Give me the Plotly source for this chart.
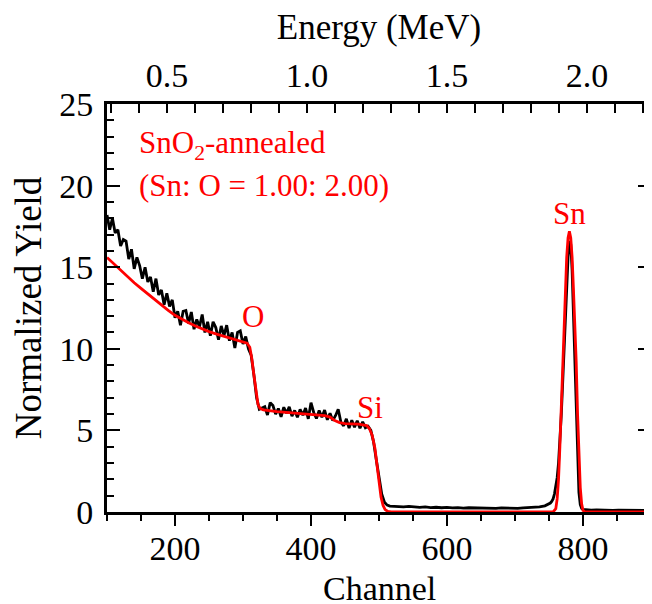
import plotly.graph_objects as go

# ---------------- data ----------------
# experimental spectrum (black) – channels in sampled segments
exp_ch_a = list(range(100, 524, 4))
exp_y_a = [18.2, 17.3, 18.0, 17.1, 17.3, 16.3, 16.7, 16.6, 15.5, 16.1,
           14.9, 15.6, 15.1, 14.3, 15.0, 14.1, 14.4, 13.5, 14.3, 13.3,
           13.6, 12.7, 13.4, 12.6, 13.0, 11.9, 12.3, 11.45, 12.3, 12.35,
           11.55, 12.25, 11.2, 11.8, 11.35, 12.1, 11.0, 11.65, 10.8, 11.65,
           11.3, 10.55, 11.4, 10.8, 11.45, 10.5, 11.0, 10.05, 11.0, 11.1,
           10.3, 10.75, 10.0, 9.6, 8.4, 7.0, 6.3, 6.4, 6.45, 5.94,
           6.7, 6.52, 6.0, 6.34, 5.83, 6.42, 6.05, 6.44, 5.88, 6.22,
           5.8, 6.29, 5.93, 6.37, 5.71, 6.7, 6.1, 5.73, 6.22, 5.81,
           6.25, 5.65, 6.05, 5.6, 5.9, 6.3, 5.5, 5.28, 5.71, 5.14,
           5.62, 5.2, 5.59, 5.13, 5.52, 5.16, 5.25, 5.0, 4.3, 3.2,
           2.0, 1.1, 0.6, 0.42, 0.36, 0.35]
exp_ch_b = list(range(528, 752, 8))
exp_y_b = [0.33, 0.31, 0.34, 0.30, 0.28, 0.31, 0.27, 0.29, 0.26, 0.28,
           0.25, 0.27, 0.24, 0.26, 0.25, 0.23, 0.26, 0.24, 0.22, 0.25,
           0.23, 0.24, 0.22, 0.25, 0.26, 0.28, 0.32, 0.38]
exp_ch_c = list(range(746, 802, 2))
exp_y_c = [0.42, 0.45, 0.5, 0.55, 0.65, 0.8, 1.1, 1.5, 2.1, 3.0,
           4.3, 5.9, 7.8, 9.9, 12.0, 14.0, 15.6, 16.6, 16.4, 14.8,
           12.2, 9.0, 5.8, 3.0, 1.2, 0.45, 0.22, 0.16]
exp_ch_d = list(range(804, 904, 8))
exp_y_d = [0.14, 0.12, 0.13, 0.11, 0.12, 0.10, 0.11, 0.10, 0.12, 0.10,
           0.11, 0.10, 0.10]

# simulated spectrum (red)
sim_ch = [100, 110, 120, 130, 140, 150, 160, 170, 180, 190, 200, 210, 220,
          230, 240, 250, 260, 270, 280, 290, 300, 306, 310, 313, 316, 319,
          322, 325, 330, 350, 375, 400, 420, 428, 435, 442, 450, 470, 482,
          486, 490, 494, 497, 500, 503, 506, 509, 513, 518, 756, 760, 762,
          764, 766, 768, 770, 772, 774, 776, 778, 780, 782, 784, 786, 788,
          790, 792, 794, 796, 798, 800, 803, 900]
sim_y = [15.6, 15.2, 14.85, 14.45, 14.05, 13.7, 13.35, 13.0, 12.65, 12.35,
         12.05, 11.8, 11.6, 11.4, 11.22, 11.05, 10.92, 10.8, 10.68, 10.56,
         10.45, 10.35, 10.1, 9.4, 8.4, 7.3, 6.6, 6.35, 6.25, 6.15, 6.07,
         6.0, 5.9, 5.82, 5.6, 5.48, 5.42, 5.38, 5.3, 5.1, 4.7, 3.9, 2.8,
         1.7, 0.9, 0.4, 0.15, 0.03, 0.0, 0.0, 0.2, 0.8, 2.0, 4.0, 6.4,
         9.0, 11.6, 13.9, 15.6, 16.8, 17.2, 16.8, 15.6, 13.6, 11.6, 9.2,
         6.0, 3.3, 1.5, 0.5, 0.1, 0.0, 0.0]

energy_ticks = [0.5, 1.0, 1.5, 2.0]
channel_ticks = [200, 400, 600, 800]
yield_ticks = [0, 5, 10, 15, 20, 25]

# ---------------- figure ----------------
FONT = "Liberation Serif"
exp_ch = exp_ch_a + exp_ch_b + exp_ch_c + exp_ch_d
exp_y = exp_y_a + exp_y_b + exp_y_c + exp_y_d

fig = go.Figure()
fig.add_trace(go.Scatter(x=exp_ch, y=exp_y, mode="lines",
                         line=dict(color="black", width=2.8),
                         showlegend=False, hoverinfo="skip"))
fig.add_trace(go.Scatter(x=sim_ch, y=sim_y, mode="lines",
                         line=dict(color="#ff0000", width=2.8),
                         showlegend=False, hoverinfo="skip"))
# dummy trace so the top (energy) axis is drawn
fig.add_trace(go.Scatter(x=energy_ticks, y=[None] * len(energy_ticks),
                         xaxis="x2", mode="lines", showlegend=False,
                         hoverinfo="skip"))

axis_common = dict(showline=True, linecolor="black", linewidth=3,
                   showgrid=False, zeroline=False, automargin=False,
                   tickfont=dict(family=FONT, size=34, color="black"),
                   tickcolor="black", tickwidth=2)

# the page body adds an 8 px offset, so the figure is sized to fit the window
fig.update_layout(
    width=644, height=596,
    margin=dict(l=99, r=1, t=96, b=92),
    paper_bgcolor="white", plot_bgcolor="white",
    font=dict(family=FONT, color="black"),
    xaxis=dict(range=[100, 900], tickvals=channel_ticks,
               ticks="outside", ticklen=11, mirror=False,
               ticklabelstandoff=-7,
               minor=dict(dtick=50, tick0=0, ticks="outside", ticklen=6,
                          tickcolor="black", tickwidth=2),
               **axis_common),
    xaxis2=dict(overlaying="x", side="top", range=[0.286, 2.229],
                tickvals=energy_ticks, tickformat=".1f",
                ticks="inside", ticklen=9,
                minor=dict(dtick=0.1, tick0=0, ticks="inside", ticklen=9,
                           tickcolor="black", tickwidth=2),
                title=dict(text="Energy (MeV)",
                           font=dict(family=FONT, size=35, color="black"),
                           standoff=12),
                **axis_common),
    yaxis=dict(range=[0, 25], tickvals=yield_ticks,
               ticks="inside", ticklen=13, mirror="ticks",
               ticklabelstandoff=4,
               minor=dict(dtick=1, tick0=0, ticks="inside", ticklen=7,
                          tickcolor="black", tickwidth=2),
               title=dict(text="Normalized Yield",
                          font=dict(family=FONT, size=37, color="black"),
                          standoff=9),
               **axis_common),
)

# bottom axis title, placed close to the lower edge as in the reference
fig.add_annotation(x=0.5, y=-0.187, xref="paper", yref="paper",
                   text="Channel", showarrow=False,
                   xanchor="center", yanchor="middle",
                   font=dict(family=FONT, size=34, color="black"))

ann_font = dict(family=FONT, size=31, color="#ff0000")
fig.add_annotation(x=144, y=22.5, text="SnO<sub>2</sub>-annealed",
                   showarrow=False, xanchor="left", yanchor="middle",
                   font=ann_font)
fig.add_annotation(x=144, y=20.0, text="(Sn: O = 1.00: 2.00)",
                   showarrow=False, xanchor="left", yanchor="middle",
                   font=ann_font)
fig.add_annotation(x=315, y=12.0, text="O", showarrow=False, font=ann_font)
fig.add_annotation(x=487, y=6.4, text="Si", showarrow=False, font=ann_font)
fig.add_annotation(x=780, y=18.3, text="Sn", showarrow=False, font=ann_font)

fig.write_html("out.html")
